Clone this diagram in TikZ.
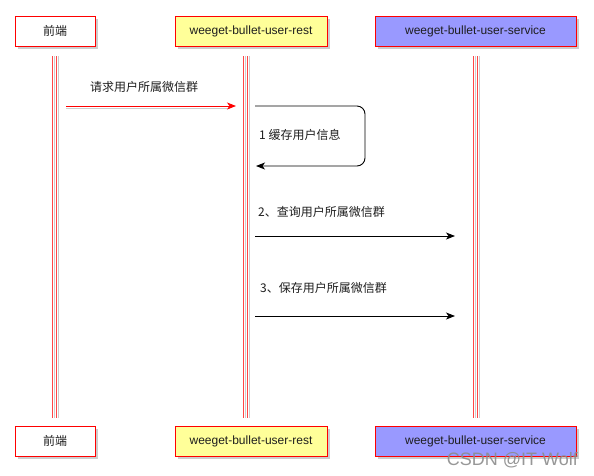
\documentclass[tikz,border=0pt]{standalone}
\usepackage{fontspec}
\setmainfont{Liberation Sans}
\newfontfamily\cjk{Noto Sans CJK SC}
\usetikzlibrary{arrows.meta,shadows,positioning}
\definecolor{lineRed}{RGB}{255,70,70}
\definecolor{restYellow}{RGB}{255,255,153}
\definecolor{serviceBlue}{RGB}{153,153,255}
\definecolor{shadowGrey}{RGB}{205,205,205}
\definecolor{textGrey}{RGB}{30,30,30}
\tikzstyle{pixels} = [x = 1pt, y = -1pt]
\tikzstyle{actorBox} = [draw=red, line width=1pt, minimum height=30pt, inner sep=0pt, text=textGrey,
  font=\fontsize{12}{14}\selectfont, drop shadow={shadow xshift=3pt, shadow yshift=-3pt, fill=shadowGrey, opacity=1}]
\tikzstyle{lifeRed} = [color=lineRed, line width=1pt]
\tikzstyle{lifeShadow} = [color=shadowGrey, line width=1pt]
\tikzstyle{msgArrow} = [color=black, line width=0.9pt, -{Stealth[length=9pt, width=7pt, inset=2.5pt]}]
\tikzstyle{msgText} = [font=\cjk\fontsize{12}{14}\selectfont, text=textGrey, inner sep=0pt]
\newcommand{\lifeLine}[3]{
  \draw [lifeShadow] (#1, #2) -- (#1, #3);
  \draw [lifeShadow] (#1 + 4, #2) -- (#1 + 4, #3);
  \draw [lifeRed] (#1 - 2, #2) -- (#1 - 2, #3);
  \draw [lifeRed] (#1 + 2, #2) -- (#1 + 2, #3);
}

\begin{document}
\begin{tikzpicture}[pixels]
  \useasboundingbox [fill=white] (0,0) rectangle (594,475);

  % actors, top and bottom
  \node [actorBox, fill=white, minimum width=80pt, font=\cjk\fontsize{12}{14}\selectfont] (frontTop) at (55,31) {前端};
  \node [actorBox, fill=restYellow, minimum width=152pt] (restTop) at (251,31) {weeget-bullet-user-rest};
  \node [actorBox, fill=serviceBlue, minimum width=201pt] (serviceTop) at (475.5,31) {weeget-bullet-user-service};
  \node [actorBox, fill=white, minimum width=80pt, font=\cjk\fontsize{12}{14}\selectfont] (frontBottom) at (55,441) {前端};
  \node [actorBox, fill=restYellow, minimum width=152pt] (restBottom) at (251,441) {weeget-bullet-user-rest};
  \node [actorBox, fill=serviceBlue, minimum width=201pt] (serviceBottom) at (475.5,441) {weeget-bullet-user-service};

  % lifelines
  \lifeLine{54.5}{56}{418}
  \lifeLine{245}{56}{418}
  \lifeLine{475}{56}{418}

  % message ends
  \coordinate (requestStart) at (66,106);
  \coordinate (requestEnd) at (236,106);
  \coordinate (cacheStart) at (255,106);
  \coordinate (cacheEnd) at (256,166);
  \coordinate (queryStart) at (255,236);
  \coordinate (queryEnd) at (455,236);
  \coordinate (saveStart) at (255,316);
  \coordinate (saveEnd) at (455,316);

  % request from front end
  \draw [color=shadowGrey, line width=1pt] ([yshift=-2pt]requestStart) -- ([yshift=-2pt, xshift=-6pt]requestEnd);
  \draw [msgArrow, color=red] (requestStart) -- (requestEnd);
  \node [msgText, anchor=base] (requestText) at (144,91) {请求用户所属微信群};

  % self call
  \draw [msgArrow, rounded corners=8pt] (cacheStart) -| (365,136) |- (cacheEnd);
  \node [msgText, anchor=base west] (cacheText) at (259,139) {1 缓存用户信息};

  % calls to service
  \draw [msgArrow] (queryStart) -- (queryEnd);
  \node [msgText, anchor=base west] (queryText) at (258,216) {2、查询用户所属微信群};
  \draw [msgArrow] (saveStart) -- (saveEnd);
  \node [msgText, anchor=base west] (saveText) at (260,292) {3、保存用户所属微信群};

  \node [font=\fontsize{18}{20}\selectfont, text=black!45, opacity=0.9, anchor=base east, inner sep=0pt] (mark) at (578,465) {CSDN @IT Wolf};
\end{tikzpicture}
\end{document}
